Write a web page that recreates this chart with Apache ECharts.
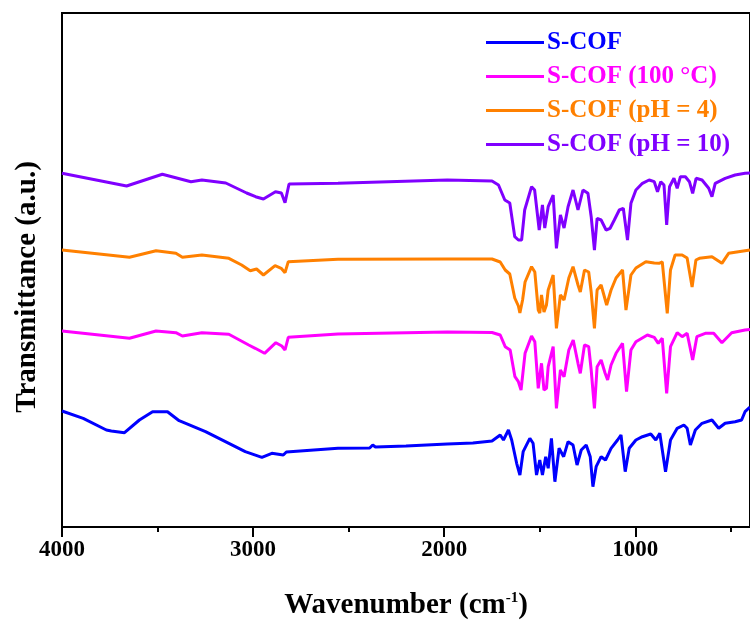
<!DOCTYPE html>
<html>
<head>
<meta charset="utf-8">
<script src="https://cdn.jsdelivr.net/npm/echarts@6/dist/echarts.min.js"></script>
<style>html,body{margin:0;padding:0;background:#fff}#c{width:750px;height:628px}</style>
</head>
<body>
<div id="c"></div>
<script>
// Series names
const seriesNames = ['S-COF', 'S-COF (100 °C)', 'S-COF (pH = 4)', 'S-COF (pH = 10)'];
const seriesColors = ['#0000FF', '#FF00FF', '#FF8000', '#8000FF'];
// Tick labels
const majorTicks = [4000, 3000, 2000, 1000];
const minorTicks = [3500, 2500, 1500, 500];

// [wavenumber (cm-1), transmittance (a.u., offset)]
const sCOF = [
 [4000,116],[3889,108.7],[3768,97],[3742,96],[3673,94.3],[3595,107],[3526,115.3],[3448,115.3],[3387,106.3],
 [3249,95.3],[3145,85.3],[3041,75.3],[2954,69.7],[2902,73.7],[2842,72],[2826,75],[2816,77],[2556,78.7],
 [2390,79],[2374,82],[2360,80],[2200,81],[1984,83],[1850,84],[1750,86],[1707,92],[1690,87],[1664,97],
 [1647,87],[1621,63.7],[1604,52],[1587,75.3],[1552,88.7],[1535,83.7],[1517,52],[1500,67],[1486,52],
 [1469,70.3],[1456,58.7],[1439,88.7],[1421,45.3],[1399,78.7],[1375,70.3],[1352,85.3],[1326,82],[1305,62],
 [1283,77],[1257,82],[1236,70.3],[1222,40.3],[1205,60.3],[1179,70.3],[1156,67],[1127,78.7],[1093,87],
 [1075,92],[1053,55.3],[1032,78.7],[997,87],[963,90.3],[919,93],[893,87],[872,93.7],[842,55.3],[816,87],
 [781,98.7],[746,102],[729,98.7],[712,82],[686,97],[651,103.7],[599,107],[564,98.7],[530,103.7],[478,105.3],
 [444,107],[426,115.3],[400,120]
];
const sCOF100 = [
 [4000,196],[3647,188.7],[3508,196],[3404,194.3],[3370,191],[3268,194.3],[3127,192.7],[3023,182],[2989,178.7],
 [2940,173.7],[2881,184.3],[2850,181],[2833,177],[2816,189.7],[2556,193],[1984,195],[1750,194.5],[1707,192],
 [1681,180.3],[1655,177],[1630,150.3],[1612,145.3],[1598,137],[1577,173.7],[1543,191],[1526,185.3],[1508,138.7],
 [1491,163.7],[1478,137],[1465,138.7],[1456,160.3],[1430,180.3],[1413,118.7],[1392,157],[1373,150.3],[1348,177],
 [1325,187],[1300,163.7],[1288,153.7],[1266,182],[1244,180.3],[1231,157],[1214,118.7],[1200,160.3],[1179,167],
 [1158,153.7],[1145,147],[1127,162],[1101,173.7],[1067,183.7],[1046,135.3],[1023,177],[997,185.3],[937,192],
 [901,189.7],[880,183.7],[859,188.7],[836,133.7],[816,180.3],[781,194.3],[755,190.3],[729,193.7],[700,167],
 [678,190.3],[634,193.7],[590,193.7],[547,184.3],[496,194.3],[426,197],[400,197.5]
];
const sCOFpH4 = [
 [4000,277],[3647,269.7],[3508,276.3],[3404,273.7],[3370,269.7],[3268,272],[3127,268.7],[3060,262],[3015,256.3],
 [2982,258],[2946,252],[2885,261.3],[2853,258.7],[2833,254.3],[2816,265.3],[2556,267.7],[1984,268],[1750,268],
 [1707,265],[1681,257],[1657,253],[1631,229],[1612,221],[1604,214],[1590,227],[1577,245],[1543,260.3],[1526,255],
 [1508,217],[1500,214],[1491,232],[1478,215],[1465,222],[1456,237],[1430,252],[1413,198.7],[1392,232],[1373,227],
 [1348,249],[1326,260.3],[1300,242],[1288,235],[1266,257],[1244,255],[1231,235],[1214,198.7],[1200,237],[1179,242],
 [1150,222],[1127,237],[1101,249],[1067,257],[1049,217],[1023,252],[997,259],[945,265.3],[901,264],[876,263.7],
 [859,265],[833,213.7],[816,257],[792,272],[755,272],[729,269],[703,240],[683,267],[665,268.7],[599,270.3],
 [547,263.7],[512,273.7],[426,276.3],[400,277]
];
const sCOFpH10 = [
 [4000,353.7],[3662,341],[3475,352.7],[3325,345.3],[3268,347],[3143,344],[3034,334],[2987,330.3],[2946,328],
 [2883,335.3],[2852,334],[2833,324.3],[2812,343],[2556,343.7],[1984,347],[1750,346],[1716,342],[1683,327],
 [1657,324],[1631,290.3],[1612,287],[1595,287],[1579,317],[1543,340.3],[1527,337],[1503,297],[1486,322],
 [1474,299],[1456,320.3],[1430,332],[1413,278.7],[1392,312],[1373,299],[1352,320.3],[1326,337],[1300,317],
 [1274,337],[1248,333.7],[1231,310.3],[1214,277],[1200,308.7],[1179,307],[1153,297],[1132,298.7],[1110,307],
 [1084,317],[1063,318.7],[1041,287],[1023,323.7],[997,337],[963,343.7],[928,347],[901,345.3],[884,335.3],
 [867,345.3],[850,342],[836,302],[821,340.3],[798,348.7],[781,338.7],[764,350.3],[738,350.3],[717,345.3],
 [700,333.7],[682,348.7],[651,347],[616,338.7],[599,330.3],[582,343.7],[530,348.7],[478,352],[426,353.7],[400,354]
];
const allData = [sCOF, sCOF100, sCOFpH4, sCOFpH10];

const FONT = "'Liberation Serif','Times New Roman',serif";
const chart = echarts.init(document.getElementById('c'), null, {renderer: 'canvas'});
chart.setOption({
  animation: false,
  backgroundColor: '#fff',
  grid: {left: 62, top: 13, right: -5, bottom: 101, show: true, borderColor: '#000', borderWidth: 2, backgroundColor: 'transparent'},
  legend: {
    orient: 'vertical', left: 481, top: 25, itemWidth: 58, itemHeight: 3, itemGap: 9, icon: 'rect',
    textStyle: {fontFamily: FONT, fontWeight: 'bold', fontSize: 25, lineHeight: 23, padding: [0,0,0,-2]},
    data: seriesNames.map((n, i) => ({name: n, textStyle: {color: seriesColors[i]}}))
  },
  xAxis: [{
    type: 'value', min: 400, max: 4000, inverse: true,
    axisLine: {show: true, lineStyle: {color: '#000', width: 2}},
    axisTick: {show: true, length: 10, customValues: majorTicks, lineStyle: {color: '#000', width: 2}},
    axisLabel: {customValues: majorTicks, formatter: v => String(v), color: '#000', fontFamily: FONT, fontWeight: 'bold', fontSize: 23, margin: 12},
    splitLine: {show: false},
    name: '{a|Wavenumber (cm}{s|-1}{a|)}', nameLocation: 'middle', nameGap: 64,
    nameTextStyle: {color: '#000', rich: {
      a: {fontFamily: FONT, fontWeight: 'bold', fontSize: 29, color: '#000', verticalAlign: 'bottom'},
      s: {fontFamily: FONT, fontWeight: 'bold', fontSize: 15, color: '#000', verticalAlign: 'top', padding: [0,0,12,0]}
    }}
  }, {
    type: 'value', min: 400, max: 4000, inverse: true, position: 'bottom',
    axisLine: {show: false},
    axisTick: {show: true, length: 5, customValues: minorTicks, lineStyle: {color: '#000', width: 2}},
    axisLabel: {show: false},
    splitLine: {show: false}
  }],
  yAxis: {
    type: 'value', min: 0, max: 514,
    axisLine: {show: true, lineStyle: {color: '#000', width: 2}},
    axisTick: {show: false}, axisLabel: {show: false}, splitLine: {show: false},
    name: 'Transmittance (a.u.)', nameLocation: 'middle', nameGap: 20,
    nameTextStyle: {color: '#000', fontFamily: FONT, fontWeight: 'bold', fontSize: 29, padding: [0, 34, 0, 0]}
  },
  series: allData.map((d, i) => ({
    name: seriesNames[i], type: 'line', data: d, showSymbol: false, symbol: 'none',
    xAxisIndex: 0, lineStyle: {color: seriesColors[i], width: 3}, itemStyle: {color: seriesColors[i]}
  }))
});
</script>
</body>
</html>
